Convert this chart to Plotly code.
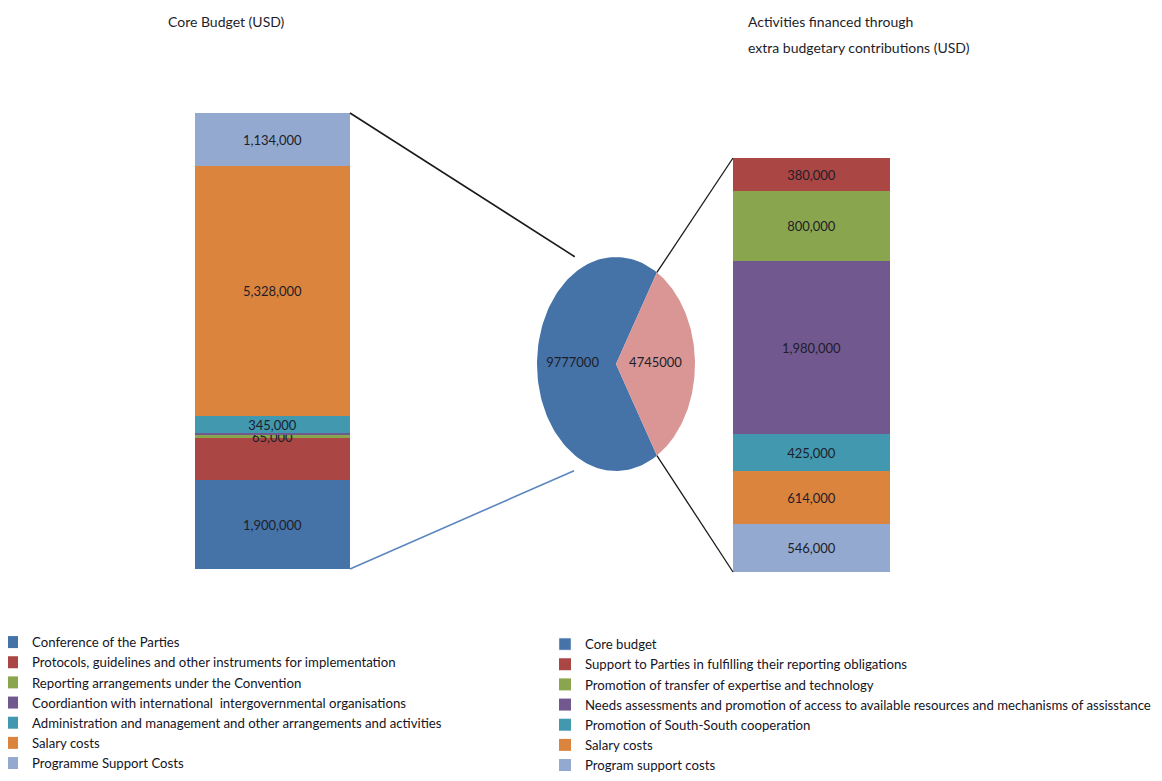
import math
import plotly.graph_objects as go

# ---------------- data ----------------
core_categories = [
    "Conference of the Parties",
    "Protocols, guidelines and other instruments for implementation",
    "Reporting arrangements under the Convention",
    "Coordiantion with international  intergovernmental organisations",
    "Administration and management and other arrangements and activities",
    "Salary costs",
    "Programme Support Costs",
]
core_values = [1900000, 880000, 65000, 60000, 345000, 5328000, 1134000]
core_labels = ["1,900,000", "", "65,000", "", "345,000", "5,328,000", "1,134,000"]
core_colors = ["#4572A7", "#AA4643", "#89A54E", "#71588F", "#4198AF", "#DB843D", "#93A9CF"]

extra_categories = [
    "Program support costs",
    "Salary costs",
    "Promotion of South-South cooperation",
    "Needs assessments and promotion of access to available resources and mechanisms of assisstance",
    "Promotion of transfer of expertise and technology",
    "Support to Parties in fulfilling their reporting obligations",
]
extra_values = [546000, 614000, 425000, 1980000, 800000, 380000]
extra_labels = ["546,000", "614,000", "425,000", "1,980,000", "800,000", "380,000"]
extra_colors = ["#93A9CF", "#DB843D", "#4198AF", "#71588F", "#89A54E", "#AA4643"]

pie_names = ["Core budget", "Extra budgetary"]
pie_values = [9777000, 4745000]
pie_colors = ["#4572A7", "#D99694"]

# ---------------- layout geometry (screen pixels) ----------------
W, H = 1162, 781
OFF = 8  # page body margin
FONT = "Lato, 'Open Sans', sans-serif"
TXT = "#1E1E2A"
LEG = "#15151f"


def fx(p):
    return (p - OFF) / W


def fy(p):
    return 1 - (p - OFF) / H


left_px = (195, 350, 113, 569)    # x0, x1, ytop, ybottom
right_px = (733, 890, 158, 572)
pie_px = (537, 695, 257, 471)

fig = go.Figure()

# left stacked bar
for cat, v, lab, col in zip(core_categories, core_values, core_labels, core_colors):
    fig.add_trace(go.Bar(
        x=[0], y=[v], name=cat, marker=dict(color=col, line=dict(width=0)),
        text=[lab], textposition="inside", insidetextanchor="middle", textangle=0,
        insidetextfont=dict(family=FONT, size=13, color=TXT),
        width=1, xaxis="x", yaxis="y", legend="legend", hoverinfo="name+y",
    ))

# legend proxy for the pie's core-budget slice (right legend)
fig.add_trace(go.Bar(
    x=[None], y=[None], name=pie_names[0], marker=dict(color=pie_colors[0]),
    xaxis="x2", yaxis="y2", legend="legend2", legendrank=1,
))
# right stacked bar
legend_rank = {c: i for i, c in enumerate(reversed(extra_categories))}
for cat, v, lab, col in zip(extra_categories, extra_values, extra_labels, extra_colors):
    fig.add_trace(go.Bar(
        x=[0], y=[v], name=cat, marker=dict(color=col, line=dict(width=0)),
        text=[lab], textposition="inside", insidetextanchor="middle", textangle=0,
        insidetextfont=dict(family=FONT, size=13, color=TXT),
        width=1, xaxis="x2", yaxis="y2", legend="legend2", hoverinfo="name+y",
        legendrank=10 + legend_rank[cat],
    ))

# elliptical pie drawn in its own axis (unit circle stretched by domain)
total = sum(pie_values)
theta_extra = 360.0 * pie_values[1] / total
slices = [
    (pie_names[0], theta_extra / 2, 360 - theta_extra / 2, pie_colors[0]),
    (pie_names[1], -theta_extra / 2, theta_extra / 2, pie_colors[1]),
]
for name, a0, a1, col in slices:
    n = 120
    xs, ys = [0.0], [0.0]
    for i in range(n + 1):
        a = math.radians(a0 + (a1 - a0) * i / n)
        xs.append(math.cos(a))
        ys.append(math.sin(a))
    xs.append(0.0)
    ys.append(0.0)
    fig.add_trace(go.Scatter(
        x=xs, y=ys, mode="lines", fill="toself", fillcolor=col,
        line=dict(width=0, color=col), showlegend=False, name=name,
        xaxis="x3", yaxis="y3", hoverinfo="name",
    ))
# pie value labels
mids = [180.0, 0.0]
rads = [0.55, 0.5]
fig.add_trace(go.Scatter(
    x=[r * math.cos(math.radians(m)) for r, m in zip(rads, mids)],
    y=[r * math.sin(math.radians(m)) for r, m in zip(rads, mids)],
    mode="text", text=[str(v) for v in pie_values],
    textfont=dict(family=FONT, size=13, color=TXT),
    showlegend=False, xaxis="x3", yaxis="y3", hoverinfo="skip",
))

# ---------------- connector lines ----------------
pcx = (pie_px[0] + pie_px[1]) / 2
pcy = (pie_px[2] + pie_px[3]) / 2
prx = (pie_px[1] - pie_px[0]) / 2
pry = (pie_px[3] - pie_px[2]) / 2


def pie_pt(angle_deg, r=1.0):
    a = math.radians(angle_deg)
    return pcx + r * prx * math.cos(a), pcy - r * pry * math.sin(a)


shapes = []


def add_line(p0, p1, color, width=1.6):
    shapes.append(dict(type="line", xref="paper", yref="paper",
                       x0=fx(p0[0]), y0=fy(p0[1]), x1=fx(p1[0]), y1=fy(p1[1]),
                       line=dict(color=color, width=width)))


add_line((left_px[1], left_px[2]), pie_pt(117.5, 1.13), "#1a1a1a")
add_line((left_px[1], left_px[3]), pie_pt(242.0, 1.13), "#5b86c0")
add_line(pie_pt(theta_extra / 2), (right_px[0], right_px[2]), "#1a1a1a", 1.3)
add_line(pie_pt(-theta_extra / 2), (right_px[0], right_px[3]), "#1a1a1a", 1.3)

# ---------------- layout ----------------
hidden = dict(visible=False, showgrid=False, zeroline=False, fixedrange=True)
fig.update_layout(
    width=W, height=H,
    margin=dict(l=0, r=0, t=0, b=0, autoexpand=False),
    paper_bgcolor="white", plot_bgcolor="white",
    barmode="stack", bargap=0,
    font=dict(family=FONT, size=13, color=TXT),
    uniformtext=dict(minsize=13, mode="show"),
    xaxis=dict(domain=[fx(left_px[0]), fx(left_px[1])], range=[-0.5, 0.5], **hidden),
    yaxis=dict(domain=[fy(left_px[3]), fy(left_px[2])], range=[0, sum(core_values)], **hidden),
    xaxis2=dict(domain=[fx(right_px[0]), fx(right_px[1])], range=[-0.5, 0.5], anchor="y2", **hidden),
    yaxis2=dict(domain=[fy(right_px[3]), fy(right_px[2])], range=[0, sum(extra_values)], anchor="x2", **hidden),
    xaxis3=dict(domain=[fx(pie_px[0]), fx(pie_px[1])], range=[-1, 1], anchor="y3", **hidden),
    yaxis3=dict(domain=[fy(pie_px[3]), fy(pie_px[2])], range=[-1, 1], anchor="x3", **hidden),
    shapes=shapes,
    legend=dict(x=fx(-8), y=fy(627), xanchor="left", yanchor="top",
                traceorder="normal", itemwidth=30, bgcolor="rgba(0,0,0,0)",
                font=dict(family=FONT, size=13.2, color=LEG)),
    legend2=dict(x=fx(545), y=fy(629), xanchor="left", yanchor="top",
                 traceorder="normal", itemwidth=30, bgcolor="rgba(0,0,0,0)",
                 font=dict(family=FONT, size=13.2, color=LEG)),
    annotations=[
        dict(text="Core Budget (USD)", xref="paper", yref="paper",
             x=fx(166), y=fy(22), xanchor="left", yanchor="middle", showarrow=False,
             font=dict(family=FONT, size=14, color=TXT)),
        dict(text="Activities financed through",
             xref="paper", yref="paper", x=fx(746), y=fy(21), xanchor="left",
             yanchor="middle", showarrow=False, align="left",
             font=dict(family=FONT, size=14, color=TXT)),
        dict(text="extra budgetary contributions (USD)",
             xref="paper", yref="paper", x=fx(746), y=fy(47), xanchor="left",
             yanchor="middle", showarrow=False, align="left",
             font=dict(family=FONT, size=14, color=TXT)),
    ],
    hovermode="closest",
)

fig.write_html("out.html")
